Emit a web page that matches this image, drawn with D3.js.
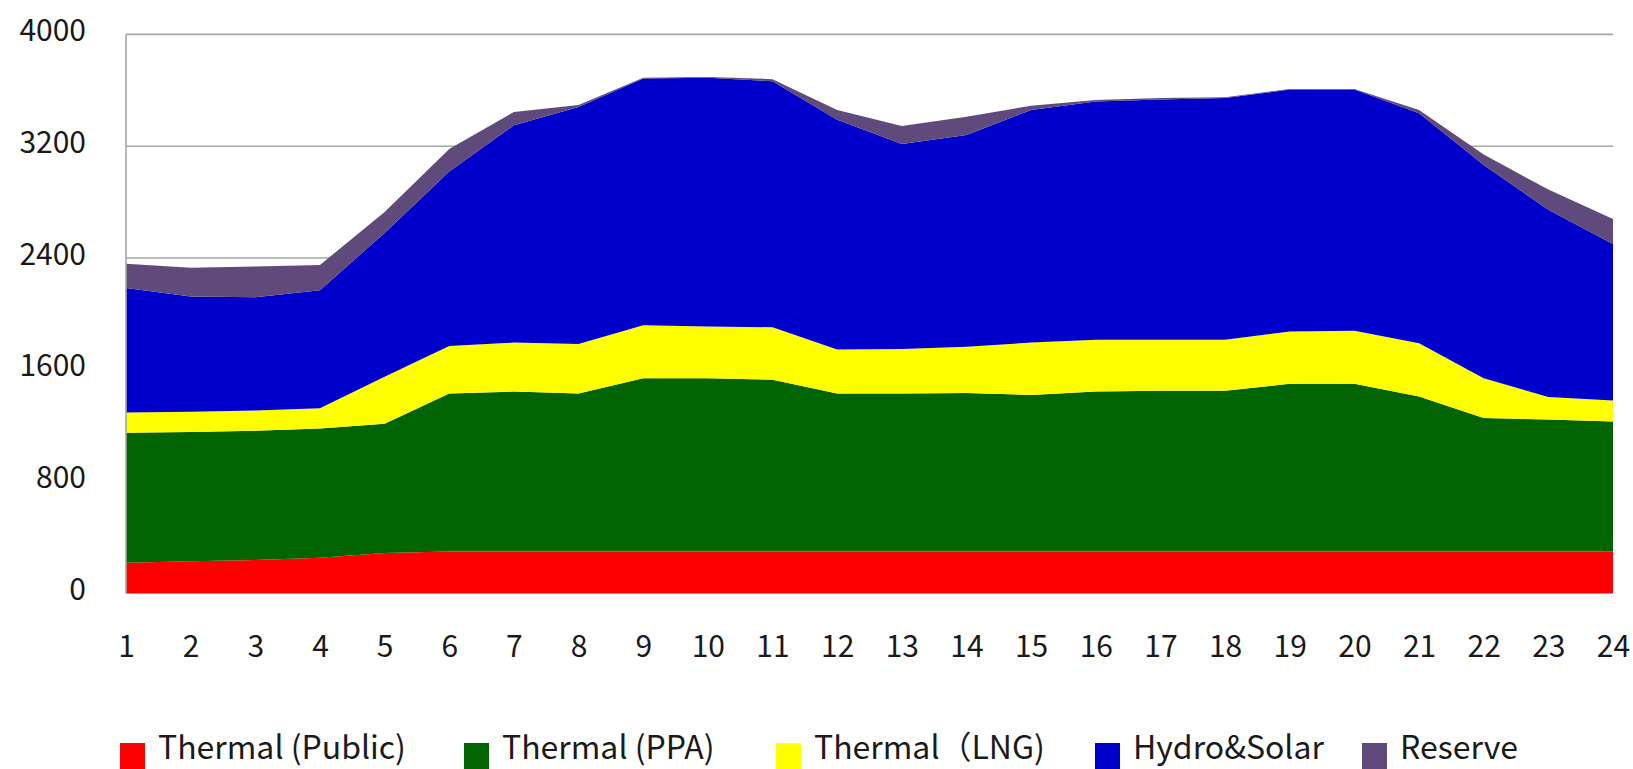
<!DOCTYPE html>
<html><head><meta charset="utf-8">
<script src="https://cdn.jsdelivr.net/npm/d3@7"></script>
<style>
body{margin:0;background:#fff;}
svg{display:block;}
text{font-family:"Noto Sans CJK SC","Noto Sans",sans-serif;fill:#1a1a1a;}
</style>
</head><body>
<svg id="c" width="1633" height="769"></svg>
<script>
// ---- data ----
const hours = [1,2,3,4,5,6,7,8,9,10,11,12,13,14,15,16,17,18,19,20,21,22,23,24];
const seriesNames = ["Thermal (Public)", "Thermal (PPA)", "Thermal（LNG)", "Hydro&Solar", "Reserve"];
const thermalPublic = [220,230,240,255,290,300,300,300,300,300,300,300,300,300,300,300,300,300,300,300,300,300,300,300];
const thermalPPA    = [930,925,925,925,925,1130,1145,1130,1240,1240,1230,1130,1130,1135,1120,1145,1150,1150,1200,1200,1110,955,945,930];
const thermalLNG    = [145,145,145,145,335,340,350,355,380,370,375,315,320,330,375,370,365,365,375,380,380,285,160,150];
const hydroSolar    = [890,825,810,845,1030,1250,1555,1695,1765,1780,1760,1645,1465,1515,1665,1705,1720,1730,1730,1725,1645,1525,1340,1120];
const reserve       = [175,205,220,180,150,160,95,15,5,5,15,70,130,130,30,10,10,5,5,5,25,75,145,180];
const yTicks = [0,800,1600,2400,3200,4000];
const colors = ["#FF0000","#006400","#FFFF00","#0000CC","#604A7B"];

// ---- build table ----
const allSeries = [thermalPublic, thermalPPA, thermalLNG, hydroSolar, reserve];
const keys = seriesNames;
const table = hours.map((h,i) => {
  const row = {hour:h};
  keys.forEach((k,j) => row[k] = allSeries[j][i]);
  return row;
});
const stacked = d3.stack().keys(keys)(table);

const svg = d3.select("#c");
const x = d3.scaleLinear().domain([1,24]).range([126,1613]);
const y = d3.scaleLinear().domain([0,4000]).range([593.5,34.4]);

// gridlines
svg.append("g").selectAll("line").data(yTicks.filter(d=>d>0)).join("line")
  .attr("x1", x(1)).attr("x2", x(24))
  .attr("y1", d=>y(d)).attr("y2", d=>y(d))
  .attr("stroke","#A6A6A6").attr("stroke-width",1.6);

// areas
const area = d3.area()
  .x(d => x(d.data.hour))
  .y0(d => y(d[0]))
  .y1(d => y(d[1]))
  .curve(d3.curveLinear);
svg.append("g").selectAll("path").data(stacked).join("path")
  .attr("d", area)
  .attr("fill", (d,i) => colors[i]);

// left axis line
svg.append("line").attr("x1", x(1)).attr("x2", x(1))
  .attr("y1", y(4000)).attr("y2", y(0))
  .attr("stroke","#A6A6A6").attr("stroke-width",1.6);

// y axis labels
const yAxis = svg.append("g").attr("transform", `translate(${x(1)},0)`)
  .call(d3.axisLeft(y).tickValues(yTicks).tickSize(0).tickPadding(40).tickFormat(d3.format("d")));
yAxis.select(".domain").remove();
yAxis.selectAll("text").attr("font-size", 30).attr("dy","0.2em")
  .style("font-family", '"Noto Sans CJK SC","Noto Sans",sans-serif').attr("fill","#1a1a1a");

// x axis labels
const xAxis = svg.append("g").attr("transform", `translate(0,${y(0)})`)
  .call(d3.axisBottom(x).tickValues(hours).tickSize(0).tickPadding(42).tickFormat(d3.format("d")));
xAxis.select(".domain").remove();
xAxis.selectAll("text").attr("font-size", 30)
  .style("font-family", '"Noto Sans CJK SC","Noto Sans",sans-serif').attr("fill","#1a1a1a");

// legend
const legendX = [120, 464, 776, 1095, 1362];
const legend = svg.append("g");
keys.forEach((k,i) => {
  const g = legend.append("g").attr("transform", `translate(${legendX[i]},0)`);
  g.append("rect").attr("x",0).attr("y",743).attr("width",25).attr("height",26).attr("fill",colors[i]);
  g.append("text").attr("x",38).attr("y",759).attr("font-size",32).text(k);
});
</script>
</body></html>
